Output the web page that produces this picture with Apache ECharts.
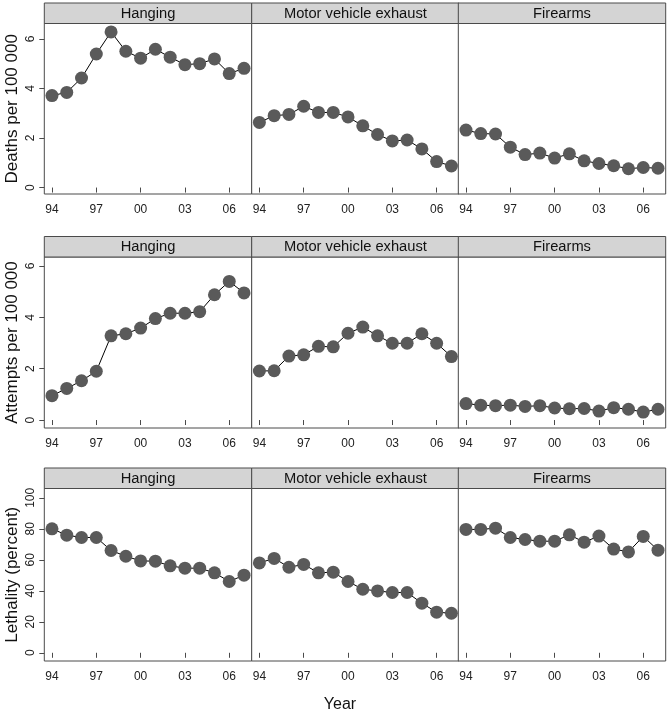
<!DOCTYPE html>
<html>
<head>
<meta charset="utf-8">
<script src="https://cdn.jsdelivr.net/npm/echarts@6/dist/echarts.min.js"></script>
<style>
html,body{margin:0;padding:0;background:#fff;}
#chart{width:670px;height:714px;}
</style>
</head>
<body>
<div id="chart"></div>
<script>
// ---- Data ----
const years = [1994, 1995, 1996, 1997, 1998, 1999, 2000, 2001, 2002, 2003, 2004, 2005, 2006, 2007];
const xTickValues = [1994, 1997, 2000, 2003, 2006];
const xTickLabels = ['94', '97', '00', '03', '06'];
const panelTitles = ['Hanging', 'Motor vehicle exhaust', 'Firearms'];
const rowTitles = ['Deaths per 100 000', 'Attempts per 100 000', 'Lethality (percent)'];
const yTicksRate = [0, 2, 4, 6];
const yTicksLethality = [0, 20, 40, 60, 80, 100];

const deathsHanging   = [3.71, 3.84, 4.42, 5.39, 6.28, 5.50, 5.22, 5.58, 5.26, 4.96, 5.00, 5.19, 4.60, 4.81];
const deathsMotor     = [2.63, 2.90, 2.95, 3.28, 3.03, 3.03, 2.85, 2.49, 2.14, 1.88, 1.92, 1.56, 1.05, 0.87];
const deathsFirearms  = [2.32, 2.18, 2.16, 1.63, 1.33, 1.39, 1.19, 1.36, 1.08, 0.97, 0.88, 0.76, 0.81, 0.78];

const attemptsHanging  = [0.95, 1.23, 1.53, 1.90, 3.28, 3.36, 3.58, 3.95, 4.16, 4.16, 4.22, 4.88, 5.40, 4.95];
const attemptsMotor    = [1.91, 1.92, 2.49, 2.54, 2.87, 2.85, 3.38, 3.62, 3.28, 2.99, 2.99, 3.36, 2.99, 2.47];
const attemptsFirearms = [0.64, 0.58, 0.56, 0.58, 0.53, 0.56, 0.47, 0.44, 0.45, 0.35, 0.48, 0.42, 0.31, 0.42];

const lethalityHanging  = [80.0, 75.9, 74.4, 74.4, 66.0, 62.3, 59.3, 59.1, 56.1, 54.6, 54.6, 51.6, 46.0, 50.1];
const lethalityMotor    = [58.0, 60.9, 55.2, 57.0, 51.6, 52.0, 46.0, 41.0, 39.9, 38.9, 38.9, 32.0, 26.2, 25.5];
const lethalityFirearms = [79.6, 79.6, 80.4, 74.4, 73.1, 72.0, 72.0, 76.1, 71.4, 75.3, 66.9, 65.1, 75.1, 66.2];

const rowsData = [
  [deathsHanging, deathsMotor, deathsFirearms],
  [attemptsHanging, attemptsMotor, attemptsFirearms],
  [lethalityHanging, lethalityMotor, lethalityFirearms]
];
const rowYTicks = [yTicksRate, yTicksRate, yTicksLethality];

// ---- Layout ----
const FONT = '"Liberation Sans", Arial, Helvetica, sans-serif';
const colX = [44.3, 251.7, 458.3];
const panelW = 207.4;
const rowTop = [3, 236.5, 468];
const stripH = 20.5;
const plotBottom = [194, 428, 661];
const yRange = [[-0.26, 6.62], [-0.31, 6.35], [-5.3, 106]];
const xMin = 1993.48, xMax = 2007.52;
const borderColor = '#4a4a4a';

const grids = [], xAxes = [], yAxes = [], series = [], graphics = [];
let idx = 0;
for (let r = 0; r < 3; r++) {
  for (let c = 0; c < 3; c++) {
    const top = rowTop[r] + stripH;
    grids.push({
      left: colX[c], top: top, width: panelW, height: plotBottom[r] - top,
      show: true, borderColor: borderColor, borderWidth: 1, backgroundColor: '#fff'
    });
    xAxes.push({
      type: 'value', gridIndex: idx, min: xMin, max: xMax,
      axisLine: { show: false },
      splitLine: { show: false },
      axisTick: { show: true, customValues: xTickValues, length: 5, lineStyle: { color: borderColor } },
      axisLabel: {
        show: true, customValues: xTickValues, margin: 10,
        fontFamily: FONT, fontSize: 12, color: '#222',
        formatter: v => xTickLabels[xTickValues.indexOf(Math.round(v))] || ''
      }
    });
    const yTicks = rowYTicks[r];
    yAxes.push({
      type: 'value', gridIndex: idx, min: yRange[r][0], max: yRange[r][1],
      axisLine: { show: false },
      splitLine: { show: false },
      axisTick: { show: c === 0, customValues: yTicks, length: 5, lineStyle: { color: borderColor } },
      axisLabel: {
        show: c === 0, customValues: yTicks, rotate: 90, margin: 8,
        fontFamily: FONT, fontSize: 12, color: '#222'
      },
      name: c === 0 ? rowTitles[r] : '',
      nameLocation: 'middle', nameRotate: 90, nameGap: 23,
      nameTextStyle: { fontFamily: FONT, fontSize: 17, color: '#111' }
    });
    const vals = rowsData[r][c];
    series.push({
      type: 'line', xAxisIndex: idx, yAxisIndex: idx,
      data: years.map((y, i) => [y, vals[i]]),
      symbol: 'circle', symbolSize: 13,
      itemStyle: { color: '#5a5a5a' },
      lineStyle: { color: '#000', width: 1 },
      emphasis: { disabled: true }, animation: false
    });
    graphics.push({
      type: 'rect', shape: { x: colX[c], y: rowTop[r], width: panelW, height: stripH },
      style: { fill: '#d4d4d4', stroke: borderColor, lineWidth: 1 }
    });
    graphics.push({
      type: 'text', x: colX[c] + panelW / 2, y: rowTop[r] + stripH / 2 + 0.5,
      style: { text: panelTitles[c], fontFamily: FONT, fontSize: 14.7, fill: '#111',
               textAlign: 'center', textVerticalAlign: 'middle' }
    });
    idx++;
  }
}
graphics.push({
  type: 'text', x: 340, y: 705,
  style: { text: 'Year', fontFamily: FONT, fontSize: 16, fill: '#111',
           textAlign: 'center', textVerticalAlign: 'middle' }
});

const chart = echarts.init(document.getElementById('chart'), null, { renderer: 'canvas' });
chart.setOption({
  animation: false,
  backgroundColor: '#fff',
  grid: grids, xAxis: xAxes, yAxis: yAxes, series: series,
  graphic: graphics
});
</script>
</body>
</html>
